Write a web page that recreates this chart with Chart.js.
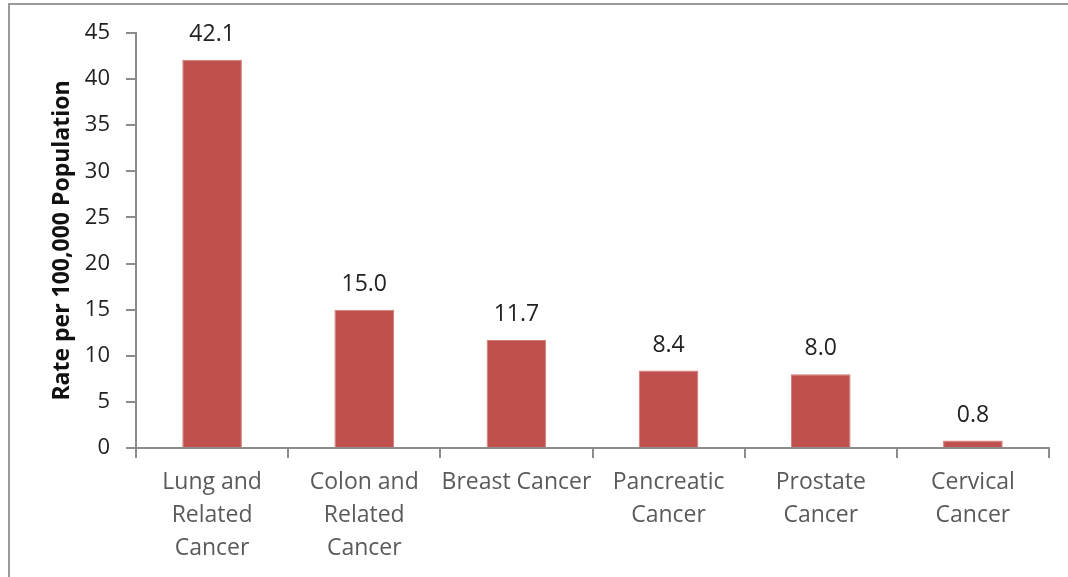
<!DOCTYPE html>
<html>
<head>
<meta charset="utf-8">
<script src="https://cdn.jsdelivr.net/npm/chart.js@4/dist/chart.umd.min.js"></script>
<style>
  html, body { margin: 0; padding: 0; background: #fff; overflow: hidden; }
  #wrap { position: relative; width: 1068px; height: 577px; }
  #frame {
    position: absolute; left: 8px; top: 3px; width: 1200px; height: 700px;
    border-top: 2px solid #9a9a9a; border-left: 2px solid #9a9a9a;
  }
  canvas { position: absolute; left: 0; top: 0; }
</style>
</head>
<body>
<div id="wrap">
  <div id="frame"></div>
  <canvas id="chart1" width="1068" height="577"></canvas>
</div>
<script>
// kategori ve oran verileri
const kategoriler = [
    ['Lung and', 'Related', 'Cancer'],
    ['Colon and', 'Related', 'Cancer'],
    'Breast Cancer',
    ['Pancreatic', 'Cancer'],
    ['Prostate', 'Cancer'],
    ['Cervical', 'Cancer']
];
const oranlar = [42.1, 15.0, 11.7, 8.4, 8.0, 0.8];
const yEksenBaslik = 'Rate per 100,000 Population';
const yMin = 0, yMax = 45, yAdim = 5;

const yaziTipi = "'Open Sans', Lato, sans-serif";

// bar üstüne değerleri yazan küçük eklenti
const degerEtiketleri = {
    id: 'degerEtiketleri',
    afterDatasetsDraw(chart) {
        const ctx = chart.ctx;
        const meta = chart.getDatasetMeta(0);
        ctx.save();
        ctx.fillStyle = '#222';
        ctx.font = '23px ' + yaziTipi;
        ctx.textAlign = 'center';
        ctx.textBaseline = 'bottom';
        meta.data.forEach((bar, i) => {
            ctx.fillText(oranlar[i].toFixed(1), bar.x, bar.y - 14);
        });
        ctx.restore();
    }
};

const ctx = document.getElementById('chart1').getContext('2d');
const myChart = new Chart(ctx, {
    type: 'bar',
    data: {
        labels: kategoriler,
        datasets: [{
            data: oranlar,
            backgroundColor: '#C0504D',
            borderColor: '#D27C79',
            borderWidth: 1,
            barPercentage: 0.8,
            categoryPercentage: 0.49
        }]
    },
    plugins: [degerEtiketleri],
    options: {
        responsive: false,
        animation: false,
        layout: { padding: { left: 0, right: 19, top: 33, bottom: 0 } },
        plugins: {
            legend: { display: false },
            tooltip: { enabled: false }
        },
        scales: {
            x: {
                grid: {
                    offset: true,
                    drawOnChartArea: false,
                    tickLength: 10,
                    color: '#8c8c8c',
                    lineWidth: 2
                },
                border: { color: '#8c8c8c', width: 2 },
                ticks: {
                    autoSkip: false,
                    maxRotation: 0,
                    padding: 8,
                    color: '#5a5a5a',
                    font: { family: yaziTipi, size: 23, lineHeight: 1.435 }
                },
                afterFit(scale) { scale.height = 129; }
            },
            y: {
                min: yMin,
                max: yMax,
                ticks: {
                    stepSize: yAdim,
                    padding: 16,
                    color: '#222',
                    font: { family: yaziTipi, size: 22 }
                },
                grid: {
                    drawOnChartArea: false,
                    tickLength: 10,
                    color: '#8c8c8c',
                    lineWidth: 2
                },
                border: { color: '#8c8c8c', width: 2 },
                title: {
                    display: true,
                    text: yEksenBaslik,
                    color: '#111',
                    padding: { top: 49, bottom: 0 },
                    font: { family: yaziTipi, size: 23, weight: 'bold' }
                },
                afterFit(scale) { scale.width = 136; }
            }
        }
    }
});
</script>
</body>
</html>
